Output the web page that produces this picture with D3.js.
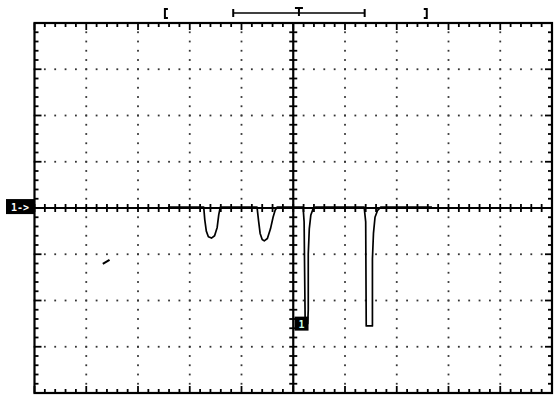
<!DOCTYPE html>
<html>
<head>
<meta charset="utf-8">
<script src="https://cdn.jsdelivr.net/npm/d3@7"></script>
<style>
  html, body { margin: 0; padding: 0; background: #fff; }
  svg { display: block; }
</style>
</head>
<body>
<div id="chart"></div>
<script>
// screen in divisions: 10 horizontal x 8 vertical
const xDivs = [-5, 5];
const yDivs = [-4, 4];

// trace, channel 1 (time in div, volts in div)
const traceT = [-2.42, -1.73, -1.71, -1.68, -1.64, -1.58, -1.52, -1.47, -1.44, -1.41,
  -0.70, -0.67, -0.64, -0.60, -0.56, -0.50, -0.44, -0.39, -0.35, -0.31,
  0.19, 0.21, 0.22, 0.23, 0.25, 0.28, 0.29, 0.29, 0.31, 0.34, 0.38, 0.43,
  1.37, 1.40, 1.41, 1.53, 1.53, 1.55, 1.58, 1.63, 1.69, 2.68];
const traceV = [0.02, 0.02, -0.25, -0.50, -0.62, -0.65, -0.60, -0.42, -0.15, 0.02,
  0.02, -0.28, -0.55, -0.68, -0.71, -0.66, -0.45, -0.20, -0.05, 0.02,
  0.02, -0.30, -1.40, -2.45, -2.55, -2.50, -2.20, -1.00, -0.45, -0.15, -0.03, 0.02,
  0.02, -0.30, -2.55, -2.55, -1.10, -0.55, -0.20, -0.05, 0.02, 0.02];

// small stray mark on the screen
const strayT = [-3.68, -3.55];
const strayV = [-1.21, -1.12];

// markers (div units)
const chMarkerV = 0.02;          // "1->" ground marker at left edge
const trigLevel = { t: 0.16, v: -2.5 };  // trigger level box
const trigPos = 0.11;            // "T" trigger position at top
const memBar = [-1.16, 1.38];    // record window bar
const memBrackets = [-2.48, 2.58];

const width = 556, height = 398;

const x = d3.scaleLinear().domain(xDivs).range([34.5, 552]);
const y = d3.scaleLinear().domain(yDivs).range([393, 23]);

const svg = d3.select('#chart')
  .append('svg')
  .attr('width', width)
  .attr('height', height);

// dotted graticule
const minor = d3.range(xDivs[0], xDivs[1] + 0.001, 0.2).map(d => +d.toFixed(2));
const minorY = d3.range(yDivs[0], yDivs[1] + 0.001, 0.2).map(d => +d.toFixed(2));
const gridX = d3.range(-4, 5).filter(d => d !== 0);
const gridY = d3.range(-3, 4).filter(d => d !== 0);

const dots = [];
gridX.forEach(gx => minorY.forEach(v => dots.push([gx, v])));
gridY.forEach(gy => minor.forEach(t => dots.push([t, gy])));

svg.append('g')
  .selectAll('rect')
  .data(dots)
  .join('rect')
  .attr('x', d => x(d[0]) - 0.9)
  .attr('y', d => y(d[1]) - 0.9)
  .attr('width', 1.8)
  .attr('height', 1.8)
  .attr('fill', '#333');

// border
svg.append('rect')
  .attr('x', x(-5))
  .attr('y', y(4))
  .attr('width', x(5) - x(-5))
  .attr('height', y(-4) - y(4))
  .attr('fill', 'none')
  .attr('stroke', '#000')
  .attr('stroke-width', 2.2);

const isMajor = d => Math.abs(d - Math.round(d)) < 1e-6;
const tickG = svg.append('g').attr('stroke', '#000').attr('stroke-width', 1.8);

// ticks on top / bottom border (inward)
minor.forEach(t => {
  const len = isMajor(t) ? 7 : 4;
  tickG.append('line').attr('x1', x(t)).attr('x2', x(t)).attr('y1', y(4)).attr('y2', y(4) + len);
  tickG.append('line').attr('x1', x(t)).attr('x2', x(t)).attr('y1', y(-4)).attr('y2', y(-4) - len);
});
// ticks on left / right border (inward)
minorY.forEach(v => {
  const len = isMajor(v) ? 7 : 4;
  tickG.append('line').attr('x1', x(-5)).attr('x2', x(-5) + len).attr('y1', y(v)).attr('y2', y(v));
  tickG.append('line').attr('x1', x(5)).attr('x2', x(5) - len).attr('y1', y(v)).attr('y2', y(v));
});

// centre axes with ticks on both sides
svg.append('line')
  .attr('x1', x(0)).attr('x2', x(0)).attr('y1', y(4)).attr('y2', y(-4))
  .attr('stroke', '#000').attr('stroke-width', 2.2);
svg.append('line')
  .attr('x1', x(-5)).attr('x2', x(5)).attr('y1', y(0)).attr('y2', y(0))
  .attr('stroke', '#000').attr('stroke-width', 2.2);
minorY.forEach(v => {
  tickG.append('line').attr('x1', x(0) - 4).attr('x2', x(0) + 4).attr('y1', y(v)).attr('y2', y(v));
});
minor.forEach(t => {
  tickG.append('line').attr('x1', x(t)).attr('x2', x(t)).attr('y1', y(0) - 4).attr('y2', y(0) + 4);
});

// the trace
const line = d3.line()
  .x(d => x(d[0]))
  .y(d => y(d[1]));

svg.append('path')
  .datum(traceT.map((t, i) => [t, traceV[i]]))
  .attr('d', line)
  .attr('fill', 'none')
  .attr('stroke', '#000')
  .attr('stroke-width', 1.7)
  .attr('stroke-linejoin', 'round');

svg.append('path')
  .datum(strayT.map((t, i) => [t, strayV[i]]))
  .attr('d', line)
  .attr('fill', 'none')
  .attr('stroke', '#000')
  .attr('stroke-width', 2);

// channel ground marker "1->"
svg.append('rect')
  .attr('x', 6).attr('y', y(chMarkerV) - 8)
  .attr('width', 28).attr('height', 15)
  .attr('fill', '#000');
svg.append('text')
  .attr('x', 20).attr('y', y(chMarkerV) + 3.5)
  .attr('text-anchor', 'middle')
  .attr('font-family', 'DejaVu Sans Mono, monospace')
  .attr('font-size', '10px')
  .attr('font-weight', 'bold')
  .attr('fill', '#fff')
  .text('1->');

// trigger level box
svg.append('rect')
  .attr('x', x(trigLevel.t) - 7).attr('y', y(trigLevel.v) - 7)
  .attr('width', 14).attr('height', 14)
  .attr('fill', '#000');
svg.append('text')
  .attr('x', x(trigLevel.t)).attr('y', y(trigLevel.v) + 4)
  .attr('text-anchor', 'middle')
  .attr('font-family', 'DejaVu Sans Mono, monospace')
  .attr('font-size', '10px')
  .attr('font-weight', 'bold')
  .attr('fill', '#cfe')
  .text('1');

// record window bar and trigger position at top
const header = svg.append('g').attr('stroke', '#000').attr('fill', 'none');
const barY = 13;
header.append('line').attr('x1', x(memBar[0])).attr('x2', x(memBar[1])).attr('y1', barY).attr('y2', barY).attr('stroke-width', 1.5);
header.append('line').attr('x1', x(memBar[0])).attr('x2', x(memBar[0])).attr('y1', barY - 4).attr('y2', barY + 4).attr('stroke-width', 2);
header.append('line').attr('x1', x(memBar[1])).attr('x2', x(memBar[1])).attr('y1', barY - 4).attr('y2', barY + 4).attr('stroke-width', 2);
header.append('line').attr('x1', x(trigPos) - 4).attr('x2', x(trigPos) + 4).attr('y1', 8).attr('y2', 8).attr('stroke-width', 2);
header.append('line').attr('x1', x(trigPos)).attr('x2', x(trigPos)).attr('y1', 8).attr('y2', barY + 3).attr('stroke-width', 2);

// brackets
const bx0 = x(memBrackets[0]), bx1 = x(memBrackets[1]);
header.append('path').attr('d', `M${bx0 + 3},9 H${bx0} V18 H${bx0 + 3}`).attr('stroke-width', 2);
header.append('path').attr('d', `M${bx1 - 3},9 H${bx1} V18 H${bx1 - 3}`).attr('stroke-width', 2);
</script>
</body>
</html>
